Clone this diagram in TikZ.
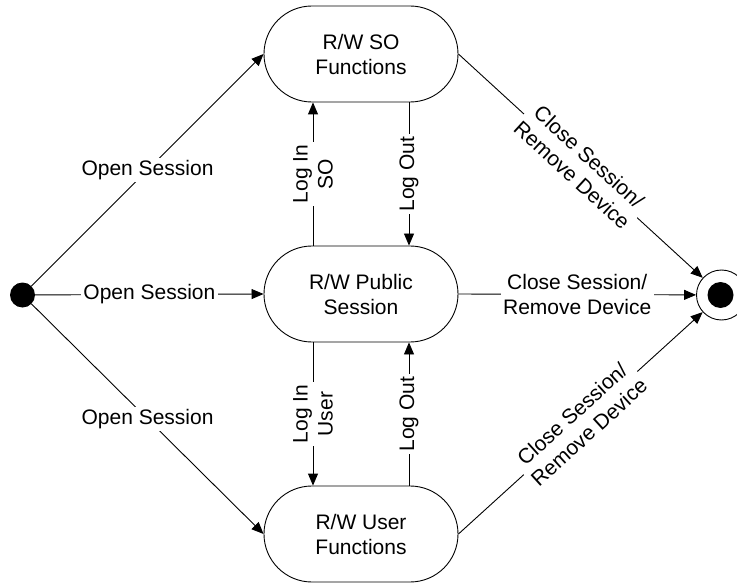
\documentclass[tikz,border=0pt]{standalone}
\usepackage{fontspec}
\setmainfont{Liberation Sans}
\usetikzlibrary{arrows.meta}
\begin{document}
\begin{tikzpicture}[x=1pt,y=-1pt,
  state/.style={draw, line width=0.9pt, rounded corners=47.9pt, minimum width=194pt, minimum height=96pt, align=center, font=\fontsize{21}{25}\selectfont, inner sep=0pt},
  lbl/.style={fill=white, align=center, font=\fontsize{21}{25}\selectfont, inner sep=2.5pt},
  arr/.style={-{Triangle[length=12pt,width=10pt]}, line width=0.9pt},
  ln/.style={line width=0.9pt}]
\useasboundingbox (0,0) rectangle (737,583);
% states
\node[state] (so)  at (361,54)  {R/W SO\\Functions};
\node[state] (pub) at (361,294) {R/W Public\\Session};
\node[state] (usr) at (361,534) {R/W User\\Functions};
% start and end
\node[circle, fill=black, minimum size=25pt, inner sep=0pt] (start) at (22.5,295) {};
\node[circle, draw, line width=0.9pt, minimum size=50pt, inner sep=0pt] (end) at (721.5,295) {};
\node[circle, fill=black, minimum size=26pt, inner sep=0pt] (endin) at (720.5,295) {};
% open session
\draw[arr] (start) -- (so.west) node[lbl, midway] {Open Session};
\draw[arr] (start) -- (pub.west) node[lbl, midway] {Open Session};
\draw[arr] (start) -- (usr.west) node[lbl, midway] {Open Session};
% log in / log out
\draw[arr] ([xshift=-48pt]pub.north) -- ([xshift=-48pt]so.south) node[lbl, midway, rotate=90] {Log In\\SO};
\draw[arr] ([xshift=48pt]so.south) -- ([xshift=48pt]pub.north) node[lbl, midway, rotate=90] {Log Out};
\draw[arr] ([xshift=-48pt]pub.south) -- ([xshift=-48pt]usr.north) node[lbl, midway, rotate=90] {Log In\\User};
\draw[arr] ([xshift=48pt]usr.north) -- ([xshift=48pt]pub.south) node[lbl, midway, rotate=90] {Log Out};
% close session
\draw[arr] (so.east) -- (end) node[lbl, midway, sloped] {Close Session/\\Remove Device};
\draw[arr] (pub.east) -- (end) node[lbl, midway] {Close Session/\\Remove Device};
\draw[arr] (usr.east) -- (end) node[lbl, midway, sloped] {Close Session/\\Remove Device};
\end{tikzpicture}
\end{document}
